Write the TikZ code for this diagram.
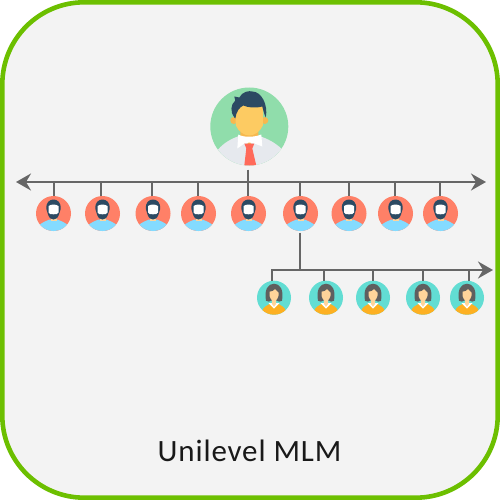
\documentclass[tikz,border=0pt]{standalone}
\usepackage{fontspec}
\setmainfont{Carlito}
\usetikzlibrary{arrows.meta}
\definecolor{frameg}{HTML}{6CBF00}
\definecolor{paper}{HTML}{F3F3F3}
\definecolor{wire}{HTML}{666666}
\definecolor{hairdark}{HTML}{2C4A63}
\definecolor{skin}{HTML}{FDCB62}
\definecolor{HTMLgreen}{HTML}{90DDAB}
\definecolor{HTMLcoral}{HTML}{FF8067}
\definecolor{HTMLteal}{HTML}{62DDD3}
\definecolor{HTMLbody}{HTML}{E6E9EE}
\definecolor{HTMLneck}{HTML}{F7B84F}
\definecolor{HTMLred}{HTML}{FF6A5A}
\definecolor{HTMLear}{HTML}{F7B84F}
\definecolor{HTMLblue}{HTML}{84DBFF}
\definecolor{HTMLorange}{HTML}{FDB022}
\definecolor{HTMLhair}{HTML}{5F5F5F}
\definecolor{HTMLface}{HTML}{FFD49A}
\tikzset{x=1pt,y=-1pt,
 wireline/.style={draw=wire,line width=2.2pt},
 arrowline/.style={wireline,-{Stealth[length=15pt,width=17pt,inset=5pt]}},
 bossnode/.style={circle,inner sep=0pt,minimum size=78pt,fill=HTMLgreen},
 malenode/.style={circle,inner sep=0pt,minimum size=35pt,fill=HTMLcoral},
 femalenode/.style={circle,inner sep=0pt,minimum size=34pt,fill=HTMLteal},
 bosspic/.pic={
  \begin{scope}
   \clip (0,0) circle (39);
   \fill[HTMLbody] (-32,24) .. controls (-24,14) and (-14,11) .. (-9,9) -- (9,9) .. controls (14,11) and (24,14) .. (33,23) -- (33,45) -- (-32,45) -- cycle;
   \fill[HTMLneck] (-9,2) -- (9,2) -- (9,12) -- (0,18) -- (-9,12) -- cycle;
   \fill[white] (-11,8) .. controls (-6,11) and (5,11) .. (12,8) -- (13,20) -- (5,17) -- (0,16) -- (-5,17) -- (-12,22) -- cycle;
   \fill[HTMLred] (-5,17) -- (5,17) -- (3,22) -- (7,39) -- (-5,39) -- (-3,22) -- cycle;
  \end{scope}
  \fill[HTMLear] (-15.5,-6) circle (3.5) (15.5,-6) circle (3.5);
  \fill[skin] (-14,-25) -- (14,-25) -- (13.5,-1) .. controls (11,5) and (5,9) .. (0,9) .. controls (-5,9) and (-11,5) .. (-13.5,-1) -- cycle;
  \fill[hairdark] (-15,-9) .. controls (-19,-14) and (-19,-22) .. (-14,-26) -- (-15,-30) -- (-10,-29) .. controls (-7,-35) and (0,-36) .. (3,-35) .. controls (12,-35) and (19,-22) .. (16.5,-9) .. controls (15,-12) and (14,-16) .. (13,-20) .. controls (7,-18) and (-2,-19) .. (-6,-21) .. controls (-10,-19) and (-13,-15) .. (-14,-8) -- cycle;
 },
 malepic/.pic={
  \begin{scope}
   \clip (0,0) circle (17.5);
   \fill[HTMLblue] (-15,12) .. controls (-10,8) and (-6,7) .. (-4,6) -- (4,6) .. controls (6,7) and (10,8) .. (15,12) -- (15,20) -- (-15,20) -- cycle;
   \fill[HTMLface] (-3,4) rectangle (3,7);
  \end{scope}
  \fill[hairdark] (-7,-4) .. controls (-8,-11) and (-4,-14) .. (0,-14) .. controls (4,-14) and (8,-11) .. (7,-4) -- (5.5,1) .. controls (4,5) and (2,6) .. (0,6) .. controls (-2,6) and (-4,5) .. (-5.5,1) -- cycle;
  \fill[white] (-5,-7.5) .. controls (-2,-9.5) and (2,-9.5) .. (5,-7.5) -- (5,-1) .. controls (4.5,0.5) and (3,1) .. (0,0.8) .. controls (-3,1) and (-4.5,0.5) .. (-5,-1) -- cycle;
 },
 femalepic/.pic={
  \begin{scope}
   \clip (0,0) circle (17);
   \fill[HTMLorange] (-12,14) .. controls (-11,9) and (-7,8) .. (-4,6) -- (4,6) .. controls (7,8) and (11,9) .. (12,14) -- (12,20) -- (-12,20) -- cycle;
  \end{scope}
  \fill[HTMLhair] (-8,3) .. controls (-10,-8) and (-6,-14) .. (0,-14) .. controls (6,-14) and (10,-8) .. (8,3) .. controls (6,4.5) and (4,4) .. (3,3) -- (-3,3) .. controls (-4,4) and (-6,4.5) .. (-8,3) -- cycle;
  \fill[white] (-5.5,5.5) -- (5.5,5.5) -- (0,11) -- cycle;
  \fill[HTMLface] (-2.2,1) -- (2.2,1) -- (2.2,6) -- (0,9) -- (-2.2,6) -- cycle;
  \fill[HTMLface] (-4.5,-6) .. controls (-2,-6) and (0,-7) .. (1,-8.5) .. controls (2,-7) and (3,-6) .. (4.5,-5) -- (4.5,-2) .. controls (3.5,2) and (1,3.5) .. (0,3.5) .. controls (-1,3.5) and (-3.5,2) .. (-4.5,-2) -- cycle;
 }}
\newfontfamily\titlefont[LetterSpace=2.8]{Carlito}
\begin{document}
\begin{tikzpicture}
\useasboundingbox (0,0) rectangle (500,500);
\draw[frameg,fill=paper,line width=4.6pt,rounded corners=82pt] (2.3,2.3) rectangle (497.7,497.7);
\node[bossnode] (boss) at (249.3,126.5) {};
\pic at (boss) {bosspic};
\foreach \n/\x in {1/53.5,2/102.5,3/153,4/198.5,5/248.5,6/300.5,7/349,8/395.5,9/440.5}{
 \node[malenode] (m\n) at (\x,213.5) {};
 \pic at (m\n) {malepic};
}
\foreach \n/\x in {1/274,2/326,3/373,4/423,5/467}{
 \node[femalenode] (f\n) at (\x,297.7) {};
 \pic at (f\n) {femalepic};
}
\coordinate (mainL) at (16,182);
\coordinate (mainR) at (486,182);
\coordinate (subR) at (493,270);
\draw[wireline,{Stealth[length=15pt,width=17pt,inset=5pt]}-{Stealth[length=15pt,width=17pt,inset=5pt]}] (mainL) -- (mainR);
\draw[wireline] ([xshift=-1.3pt,yshift=-4pt]boss.south) -- ([xshift=-1.3pt]boss.south |- mainL);
\foreach \n/\d in {1/0.5,2/-1.5,3/-1,4/-0.5,5/-0.5,6/-0.5,7/0,8/-0.5,9/-0.5}{
 \draw[wireline] ([xshift=\d pt]m\n.north) -- ([xshift=\d pt]m\n.north |- mainL);
}
\draw[wireline] ([xshift=-0.5pt,yshift=-1.5pt]m6.south) -- ([xshift=-0.5pt]m6.south |- subR);
\draw[arrowline] ([xshift=-2pt]f1.north) |- (subR);
\foreach \n/\d in {2/-2.2,3/0,4/0,5/2}{
 \draw[wireline] ([xshift=\d pt]f\n.north) -- ([xshift=\d pt]f\n.north |- subR);
}
\node[font=\titlefont\fontsize{31}{36}\selectfont,text=black!90] (title) at (249.5,451) {Unilevel MLM};
\end{tikzpicture}
\end{document}
